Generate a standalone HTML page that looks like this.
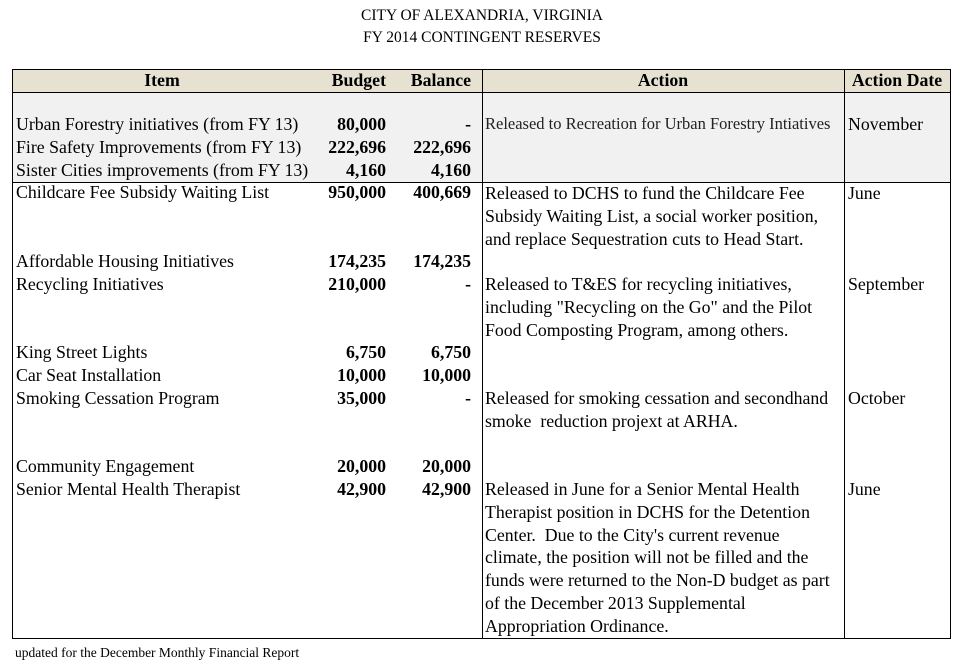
<!DOCTYPE html>
<html><head><meta charset="utf-8"><style>
body{margin:0;width:970px;height:668px;background:#fff;position:relative;overflow:hidden;font-family:"Liberation Serif",serif;color:#000}
.t{position:absolute;font-size:17.8px;line-height:22.8px;white-space:nowrap}
.b{font-weight:bold}
.r{text-align:right}
.l{position:absolute;background:#000}
</style></head><body>
<div class="t" style="left:0;width:964px;text-align:center;top:5px;font-size:15.5px">CITY OF ALEXANDRIA, VIRGINIA</div>
<div class="t" style="left:0;width:964px;text-align:center;top:27px;font-size:15.5px">FY 2014 CONTINGENT RESERVES</div>
<div style="position:absolute;left:12px;top:69px;width:938px;height:23px;background:#e6e1d1"></div>
<div style="position:absolute;left:12px;top:92px;width:938px;height:90px;background:#f1f1f1"></div>
<div class="l" style="left:12px;top:69px;width:939px;height:1px"></div>
<div class="l" style="left:12px;top:92px;width:939px;height:1px"></div>
<div class="l" style="left:12px;top:182px;width:939px;height:1px"></div>
<div class="l" style="left:12px;top:638px;width:939px;height:1px"></div>
<div class="l" style="left:12px;top:69px;width:1px;height:570px"></div>
<div class="l" style="left:482px;top:69px;width:1px;height:570px"></div>
<div class="l" style="left:844px;top:69px;width:1px;height:570px"></div>
<div class="l" style="left:950px;top:69px;width:1px;height:570px"></div>
<div class="t b" style="left:12px;width:300px;text-align:center;top:69px">Item</div>
<div class="t b r" style="left:290px;width:96px;top:69px">Budget</div>
<div class="t b r" style="left:380px;width:91px;top:69px">Balance</div>
<div class="t b" style="left:482px;width:362px;text-align:center;top:69px">Action</div>
<div class="t b" style="left:844px;width:106px;text-align:center;top:69px">Action Date</div>

<div class="t" style="left:16px;top:113px">Urban Forestry initiatives (from FY 13)<br>Fire Safety Improvements (from FY 13)<br>Sister Cities improvements (from FY 13)<br>Childcare Fee Subsidy Waiting List</div>
<div class="t b r" style="left:290px;width:96px;top:113px">80,000<br>222,696<br>4,160<br>950,000</div>
<div class="t b r" style="left:380px;width:91px;top:113px">-<br>222,696<br>4,160<br>400,669</div>
<div class="t" style="left:485px;top:113px;font-size:16.5px;color:#222">Released to Recreation for Urban Forestry Intiatives</div>
<div class="t" style="left:848px;top:113px">November</div>
<div class="t" style="left:485px;top:182px">Released to DCHS to fund the Childcare Fee<br>Subsidy Waiting List, a social worker position,<br>and replace Sequestration cuts to Head Start.</div>
<div class="t" style="left:848px;top:182px">June</div>

<div class="t" style="left:16px;top:250px">Affordable Housing Initiatives<br>Recycling Initiatives</div>
<div class="t b r" style="left:290px;width:96px;top:250px">174,235<br>210,000</div>
<div class="t b r" style="left:380px;width:91px;top:250px">174,235<br>-</div>
<div class="t" style="left:485px;top:273px">Released to T&amp;ES for recycling initiatives,<br>including "Recycling on the Go" and the Pilot<br>Food Composting Program, among others.</div>
<div class="t" style="left:848px;top:273px">September</div>

<div class="t" style="left:16px;top:341px">King Street Lights<br>Car Seat Installation<br>Smoking Cessation Program</div>
<div class="t b r" style="left:290px;width:96px;top:341px">6,750<br>10,000<br>35,000</div>
<div class="t b r" style="left:380px;width:91px;top:341px">6,750<br>10,000<br>-</div>
<div class="t" style="left:485px;top:387px">Released for smoking cessation and secondhand<br>smoke&nbsp; reduction projext at ARHA.</div>
<div class="t" style="left:848px;top:387px">October</div>

<div class="t" style="left:16px;top:455px">Community Engagement<br>Senior Mental Health Therapist</div>
<div class="t b r" style="left:290px;width:96px;top:455px">20,000<br>42,900</div>
<div class="t b r" style="left:380px;width:91px;top:455px">20,000<br>42,900</div>
<div class="t" style="left:485px;top:478px">Released in June for a Senior Mental Health<br>Therapist position in DCHS for the Detention<br>Center.&nbsp; Due to the City's current revenue<br>climate, the position will not be filled and the<br>funds were returned to the Non-D budget as part<br>of the December 2013 Supplemental<br>Appropriation Ordinance.</div>
<div class="t" style="left:848px;top:478px">June</div>

<div class="t" style="left:15px;top:645px;font-size:13.5px;line-height:16px">updated for the December Monthly Financial Report</div>
</body></html>
